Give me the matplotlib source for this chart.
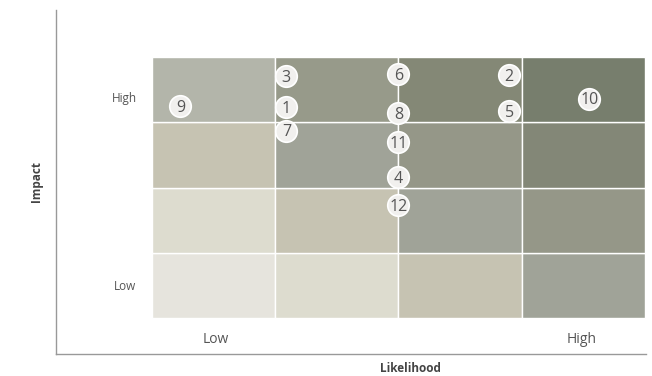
import matplotlib
matplotlib.use('Agg')
import matplotlib.pyplot as plt

plt.rcParams['font.family'] = ['Open Sans', 'DejaVu Sans']

# cell colours, bottom row first, columns = likelihood low -> high
row_colors = [
    ['#e6e4dd', '#dddccf', '#c6c3b2', '#a0a398'],
    ['#dddccf', '#c6c3b2', '#a0a398', '#959788'],
    ['#c6c3b2', '#a0a398', '#959788', '#838777'],
    ['#b3b5aa', '#979a8a', '#848876', '#777e6d'],
]

risk_ids = ['9', '3', '1', '7', '6', '8', '11', '4', '12', '2', '5', '10']
likelihood = [0.23, 1.09, 1.09, 1.09, 2.0, 2.0, 2.0, 2.0, 2.0, 2.90, 2.90, 3.55]
impact = [3.25, 3.71, 3.23, 2.87, 3.74, 3.14, 2.70, 2.16, 1.73, 3.72, 3.17, 3.36]

x_ticks = [0.52, 3.49]
x_labels = ['Low', 'High']
y_ticks = [0.51, 3.39]
y_labels = ['Low', 'High']

fig = plt.figure(figsize=(6.52, 3.76), dpi=100)
ax = fig.add_axes([56 / 652, 22 / 376, 590 / 652, 344 / 376])

for r, colors in enumerate(row_colors):
    for c, col in enumerate(colors):
        ax.add_patch(plt.Rectangle((c, r), 1, 1, facecolor=col,
                                   edgecolor='white', linewidth=1.0, zorder=1))

ax.plot(likelihood, impact, 'o', markersize=15.5, markerfacecolor='#f1f0ee',
        markeredgecolor='white', markeredgewidth=1.2, zorder=3)
for name, x, y in zip(risk_ids, likelihood, impact):
    # digits centred optically: baseline shifted down by half the cap height
    ax.annotate(name, (x, y), xytext=(0, -4.1), textcoords='offset points',
                ha='center', va='baseline', fontsize=11.5,
                color='#555555', zorder=4)

ax.set_xlim(-0.78, 4.01)
ax.set_ylim(-0.55, 4.72)

ax.set_xticks(x_ticks)
ax.set_xticklabels(x_labels, fontsize=10, color='#555555')
ax.set_yticks(y_ticks)
ax.set_yticklabels(y_labels, fontsize=8.5, color='#555555')
ax.tick_params(length=0)
ax.tick_params(axis='x', pad=-16)
ax.tick_params(axis='y', pad=-58)

for s in ['top', 'right']:
    ax.spines[s].set_visible(False)
for s in ['left', 'bottom']:
    ax.spines[s].set_color('#999999')
    ax.spines[s].set_linewidth(1)

ax.text(2.1, -0.68, 'Likelihood', transform=ax.transData, ha='center',
        va='top', fontsize=8.5, fontweight='bold', color='#444444',
        clip_on=False)
ax.set_ylabel('Impact', fontsize=8.5, fontweight='bold', color='#444444')
ax.yaxis.set_label_coords(-0.022, 0.5)

fig.savefig('out.png', dpi=100)
